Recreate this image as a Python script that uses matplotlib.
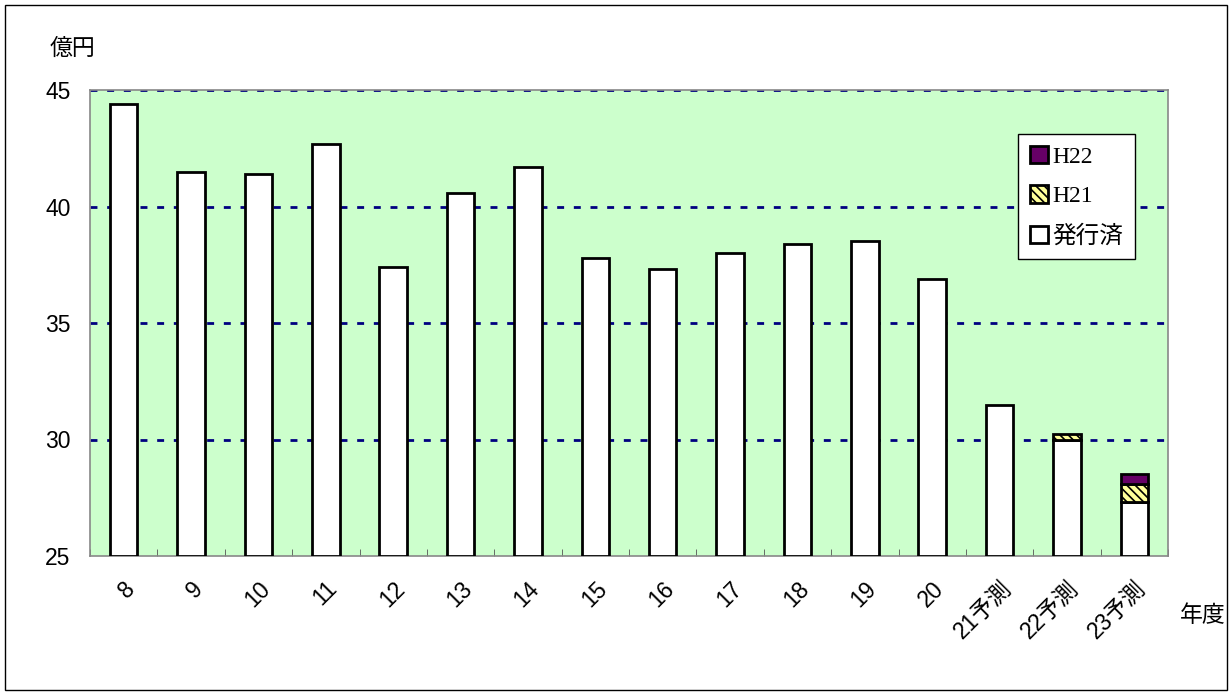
import matplotlib
matplotlib.use('Agg')
import matplotlib.pyplot as plt
from matplotlib.patches import Rectangle
import numpy as np

plt.rcParams['font.family'] = ['Liberation Sans', 'Noto Sans CJK JP']
plt.rcParams['hatch.linewidth'] = 1.2

# data
years = ['8', '9', '10', '11', '12', '13', '14', '15', '16', '17', '18', '19', '20',
         '21予測', '22予測', '23予測']
issued = [44.4, 41.5, 41.4, 42.7, 37.4, 40.6, 41.7, 37.8, 37.3, 38.0, 38.4, 38.5, 36.9,
          31.5, 30.0, 27.3]
h21 = [0, 0, 0, 0, 0, 0, 0, 0, 0, 0, 0, 0, 0, 0, 0.25, 0.8]
h22 = [0, 0, 0, 0, 0, 0, 0, 0, 0, 0, 0, 0, 0, 0, 0, 0.4]
yticks = [25, 30, 35, 40, 45]

fig = plt.figure(figsize=(12.3, 6.94), dpi=100)
ax = fig.add_axes([90/1230, 1 - 556/694, (1168-90)/1230, (556-90)/694])
ax.set_facecolor('#CCFFCC')

x = np.arange(len(years))
w = 0.41
bottom = 25
iss = np.array(issued)
b21 = np.array(h21)
b22 = np.array(h22)

ax.bar(x, iss - bottom, w, bottom=bottom, color='white', edgecolor='black', linewidth=2,
       label='発行済', zorder=3)
m = b21 > 0
ax.bar(x[m], b21[m], w, bottom=iss[m], color='#FFFF99', edgecolor='black', linewidth=2,
       hatch='\\\\\\\\', label='H21', zorder=3)
m = b22 > 0
ax.bar(x[m], b22[m], w, bottom=(iss + b21)[m], color='#660066', edgecolor='black',
       linewidth=2, label='H22', zorder=3)

ax.set_xlim(-0.5, len(years) - 0.5)
ax.set_ylim(25, 45)
ax.set_yticks(yticks)
ax.set_yticklabels([str(t) for t in yticks], fontsize=16.5)
for t in yticks[1:]:
    ax.axhline(t, color='#000080', linestyle=(0, (2.5, 3.5)), linewidth=2, zorder=1)

ax.set_xticks(x)
ax.set_xticklabels(years, rotation=45, ha='right', rotation_mode='anchor', fontsize=16.5)
ax.tick_params(axis='x', length=0, pad=15)
ax.set_xticks(np.arange(len(years) + 1) - 0.5, minor=True)
ax.tick_params(axis='x', which='minor', direction='in', length=5, color='#555555')
ax.tick_params(axis='y', length=0, pad=14)
for s in ax.spines.values():
    s.set_color('#888888')
    s.set_linewidth(1.2)

handles, labels = ax.get_legend_handles_labels()
leg = ax.legend(handles[::-1], labels[::-1], loc='upper right',
                bbox_to_anchor=((1135-90)/1078, 1 - (134-90)/466),
                frameon=True, fancybox=False, edgecolor='black', framealpha=1,
                facecolor='white',
                handlelength=0.75, handleheight=0.75, handletextpad=0.2,
                labelspacing=0.75, borderpad=0.5, borderaxespad=0,
                prop={'family': ['Liberation Serif', 'Noto Sans CJK JP'], 'size': 17})
leg.get_frame().set_linewidth(1)

fig.text(50/1230, 1 - 48/694, '億円', fontsize=16.5, family=['Noto Sans CJK JP'], va='center')
fig.text(1180/1230, 1 - 616/694, '年度', fontsize=16.5, family=['Noto Sans CJK JP'], va='center')

fig.patches.append(Rectangle((5/1230, 4/694), 1222/1230, 685/694, transform=fig.transFigure,
                             fill=False, edgecolor='black', linewidth=1))

fig.savefig('out.png', dpi=100)
